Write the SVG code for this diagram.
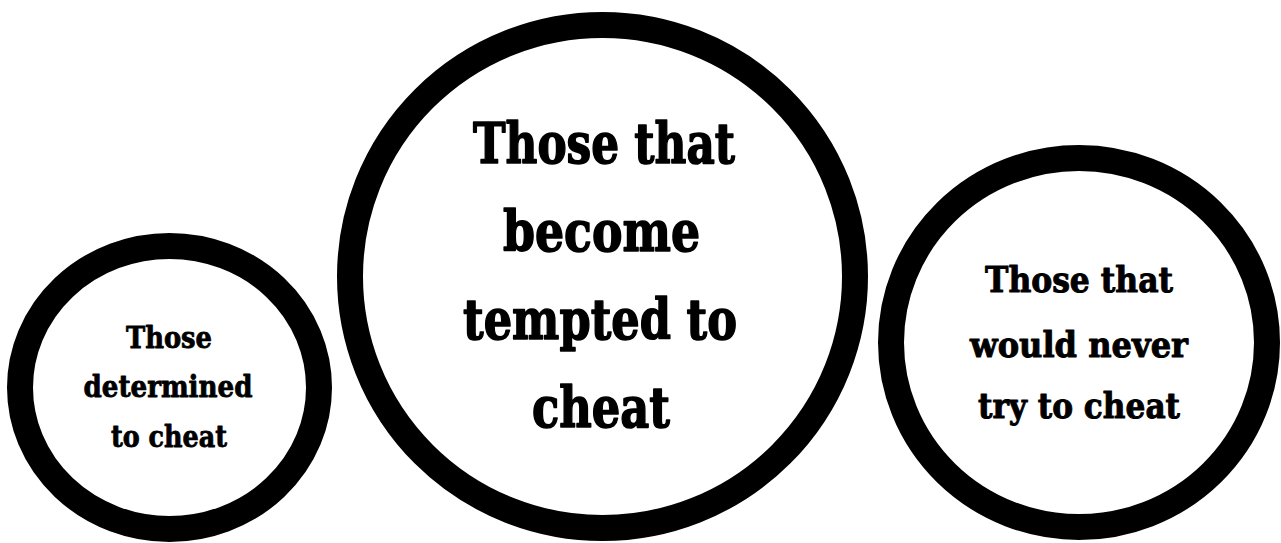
<svg xmlns="http://www.w3.org/2000/svg" width="1281" height="543" viewBox="0 0 1281 543">
<style>
.ring{fill:#fff;stroke:#000;stroke-width:26}
.t{font-family:"DejaVu Serif","Liberation Serif",serif;font-weight:bold;fill:#000;stroke:#000;stroke-linejoin:round;text-anchor:middle}
.s{font-size:29px;stroke-width:0.8}
.m{font-size:56px;stroke-width:1.6}
.r{font-size:36px;stroke-width:1}
</style>
<rect width="1281" height="543" fill="#fff"/>
<g id="node-determined">
<ellipse class="ring" cx="169.5" cy="387.5" rx="149.5" ry="141.5"/>
<text class="t s" x="169" y="348" textLength="86" lengthAdjust="spacingAndGlyphs">Those</text>
<text class="t s" x="168" y="397" textLength="169" lengthAdjust="spacingAndGlyphs">determined</text>
<text class="t s" x="169" y="447" textLength="116" lengthAdjust="spacingAndGlyphs">to cheat</text>
</g>
<g id="node-tempted">
<ellipse class="ring" cx="602.5" cy="276.5" rx="252.5" ry="251.5"/>
<text class="t m" x="604" y="163" textLength="262" lengthAdjust="spacingAndGlyphs">Those that</text>
<text class="t m" x="601.5" y="251" textLength="197" lengthAdjust="spacingAndGlyphs">become</text>
<text class="t m" x="600" y="339" textLength="274" lengthAdjust="spacingAndGlyphs">tempted to</text>
<text class="t m" x="601" y="427" textLength="138" lengthAdjust="spacingAndGlyphs">cheat</text>
</g>
<g id="node-never">
<ellipse class="ring" cx="1079" cy="342.5" rx="188" ry="184.5"/>
<text class="t r" x="1079" y="292" textLength="188" lengthAdjust="spacingAndGlyphs">Those that</text>
<text class="t r" x="1079" y="357" textLength="218" lengthAdjust="spacingAndGlyphs">would never</text>
<text class="t r" x="1079" y="418" textLength="202" lengthAdjust="spacingAndGlyphs">try to cheat</text>
</g>
<g id="connectors"/>
</svg>
